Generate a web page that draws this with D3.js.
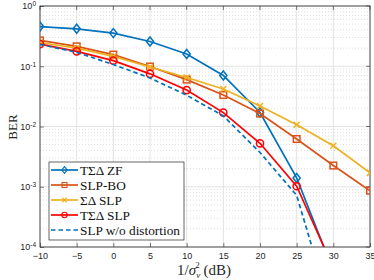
<!DOCTYPE html>
<html>
<head>
<meta charset="utf-8">
<script src="https://cdn.jsdelivr.net/npm/d3@7"></script>
<style>
  body { margin: 0; background: #fff; }
  svg { display: block; }
  .tick text { font-family: "Liberation Sans", Arial, sans-serif; font-size: 9px; fill: #262626; }
</style>
</head>
<body>
<svg id="chart" width="374" height="280"></svg>
<script>
// SNR values (dB)
const snr = [-10, -5, 0, 5, 10, 15, 20, 25, 30, 35];

// BER per scheme (null = not plotted)
const tsdZF    = [0.456, 0.418, 0.355, 0.258, 0.160, 0.0703, 0.0171, 0.0014, 0.00004, null];
const slpBO    = [0.268, 0.214, 0.156, 0.099, 0.060, 0.0333, 0.0164, 0.0062, 0.00225, 0.00086];
const sdSLP    = [0.248, 0.200, 0.146, 0.097, 0.065, 0.042, 0.0219, 0.0107, 0.0048, 0.0017];
const tsdSLP   = [0.233, 0.177, 0.124, 0.0748, 0.0402, 0.017, 0.00526, 0.00102, 0.000045, null];
const noDist   = [0.230, 0.170, 0.107, 0.064, 0.033, 0.015, 0.0037, 0.00072, 0.0000065, null];

const xTicks = [-10, -5, 0, 5, 10, 15, 20, 25, 30, 35];
const yTicks = [1e-4, 1e-3, 1e-2, 1e-1, 1];

const series = [
  {name: 'TΣΔ ZF', values: tsdZF, color: '#0072BD', marker: 'diamond', dash: null},
  {name: 'SLP-BO', values: slpBO, color: '#D95319', marker: 'square', dash: null},
  {name: 'ΣΔ SLP', values: sdSLP, color: '#EDB120', marker: 'cross', dash: null},
  {name: 'TΣΔ SLP', values: tsdSLP, color: '#FF0000', marker: 'circle', dash: null},
  {name: 'SLP w/o distortion', values: noDist, color: '#0072BD', marker: null, dash: '4.5,3'}
];

const svg = d3.select('#chart');
const pLeft = 40, pRight = 370, pTop = 6, pBottom = 247;
const serif = '"Liberation Serif", "Times New Roman", serif';

const x = d3.scaleLinear().domain([-10, 35]).range([pLeft, pRight]);
const y = d3.scaleLog().domain([1e-4, 1]).range([pBottom, pTop]);

// Grid
const grid = svg.append('g');
const minorY = [];
for (let e = -4; e < 0; e++) for (let m = 2; m <= 9; m++) minorY.push(m * Math.pow(10, e));
grid.selectAll('.minor').data(minorY).enter().append('line')
  .attr('x1', pLeft).attr('x2', pRight)
  .attr('y1', d => y(d)).attr('y2', d => y(d))
  .attr('stroke', '#d0d0d0').attr('stroke-width', 0.7).attr('stroke-dasharray', '1,2');
grid.selectAll('.majy').data(yTicks).enter().append('line')
  .attr('x1', pLeft).attr('x2', pRight)
  .attr('y1', d => y(d)).attr('y2', d => y(d))
  .attr('stroke', '#e3e3e3').attr('stroke-width', 1);
grid.selectAll('.majx').data(xTicks).enter().append('line')
  .attr('x1', d => x(d)).attr('x2', d => x(d))
  .attr('y1', pTop).attr('y2', pBottom)
  .attr('stroke', '#e3e3e3').attr('stroke-width', 1);

// Axes
const xAxis = d3.axisBottom(x).tickValues(xTicks).tickSize(-4).tickPadding(6).tickFormat(d3.format('d'));
const gx = svg.append('g').attr('transform', `translate(0,${pBottom})`).call(xAxis);
const yAxis = d3.axisLeft(y).tickValues(yTicks).tickSize(-4).tickPadding(4).tickFormat(() => '');
const gy = svg.append('g').attr('transform', `translate(${pLeft},0)`).call(yAxis);
[gx, gy].forEach(g => {
  g.select('.domain').remove();
  g.selectAll('.tick line').attr('stroke', '#262626').attr('stroke-width', 0.6);
});
gy.selectAll('.tick text').each(function(d) {
  const t = d3.select(this).attr('dy', '0.32em');
  t.append('tspan').text('10');
  t.append('tspan').attr('dy', '-0.45em').attr('font-size', '6.5px').text(Math.round(Math.log10(d)));
});

// right-side and top ticks
svg.append('g').selectAll('line').data(yTicks).enter().append('line')
  .attr('x1', pRight).attr('x2', pRight - 4)
  .attr('y1', d => y(d)).attr('y2', d => y(d))
  .attr('stroke', '#262626').attr('stroke-width', 0.6);
svg.append('g').selectAll('line').data(xTicks).enter().append('line')
  .attr('x1', d => x(d)).attr('x2', d => x(d))
  .attr('y1', pTop).attr('y2', pTop + 4)
  .attr('stroke', '#262626').attr('stroke-width', 0.6);

svg.append('rect')
  .attr('x', pLeft).attr('y', pTop).attr('width', pRight - pLeft).attr('height', pBottom - pTop)
  .attr('fill', 'none').attr('stroke', '#262626').attr('stroke-width', 0.8);

// Clip
svg.append('clipPath').attr('id', 'clip').append('rect')
  .attr('x', pLeft).attr('y', pTop).attr('width', pRight - pLeft).attr('height', pBottom - pTop);

function drawMarker(g, type, color) {
  if (type === 'diamond') {
    g.append('path').attr('d', 'M0,-4.5L3.6,0L0,4.5L-3.6,0Z')
      .attr('fill', 'none').attr('stroke', color).attr('stroke-width', 1.5);
  } else if (type === 'square') {
    g.append('rect').attr('x', -3.3).attr('y', -3.3).attr('width', 6.6).attr('height', 6.6)
      .attr('fill', 'none').attr('stroke', color).attr('stroke-width', 1.5);
  } else if (type === 'cross') {
    g.append('path').attr('d', 'M-3,-3L3,3M-3,3L3,-3')
      .attr('fill', 'none').attr('stroke', color).attr('stroke-width', 1.5);
  } else if (type === 'circle') {
    g.append('circle').attr('r', 3.6)
      .attr('fill', 'none').attr('stroke', color).attr('stroke-width', 1.5);
  }
}

const line = d3.line()
  .defined(d => d[1] != null)
  .x(d => x(d[0])).y(d => y(d[1]));

const plot = svg.append('g').attr('clip-path', 'url(#clip)');
series.forEach(s => {
  const pts = snr.map((v, i) => [v, s.values[i]]);
  plot.append('path').datum(pts)
    .attr('d', line)
    .attr('fill', 'none').attr('stroke', s.color).attr('stroke-width', 1.7)
    .attr('stroke-dasharray', s.dash);
  if (s.marker) {
    pts.filter(p => p[1] != null && p[1] >= 1e-4).forEach(p => {
      drawMarker(plot.append('g').attr('transform', `translate(${x(p[0])},${y(p[1])})`), s.marker, s.color);
    });
  }
});

// Labels
svg.append('text')
  .attr('transform', `translate(17,127) rotate(-90)`)
  .attr('text-anchor', 'middle')
  .attr('font-family', serif)
  .attr('font-size', '13px').attr('fill', '#262626')
  .text('BER');

const xl = svg.append('text')
  .attr('x', 204).attr('y', 275)
  .attr('text-anchor', 'middle')
  .attr('font-family', serif)
  .attr('font-size', '15px').attr('fill', '#262626');
xl.append('tspan').text('1/');
xl.append('tspan').attr('font-style', 'italic').text('σ');
xl.append('tspan').attr('font-style', 'italic').attr('font-size', '9px').attr('dy', '3').text('v');
xl.append('tspan').attr('font-size', '9px').attr('dy', '-10').attr('dx', '-5').text('2');
xl.append('tspan').attr('dy', '7').text(' (dB)');

// Legend
const lg = svg.append('g');
lg.append('rect').attr('x', 49).attr('y', 162).attr('width', 135).attr('height', 78)
  .attr('fill', '#fff').attr('stroke', '#262626').attr('stroke-width', 0.7);
series.forEach((s, i) => {
  const yy = 170 + i * 15;
  lg.append('line').attr('x1', 51).attr('x2', 78).attr('y1', yy).attr('y2', yy)
    .attr('stroke', s.color).attr('stroke-width', 1.7).attr('stroke-dasharray', s.dash);
  if (s.marker) {
    const g = lg.append('g').attr('transform', `translate(64.5,${yy}) scale(0.75)`);
    drawMarker(g, s.marker, s.color);
  }
  lg.append('text').attr('x', 80).attr('y', yy).attr('dy', '0.35em')
    .attr('font-family', serif)
    .attr('font-size', '13.3px').attr('fill', '#111')
    .text(s.name);
});
</script>
</body>
</html>
